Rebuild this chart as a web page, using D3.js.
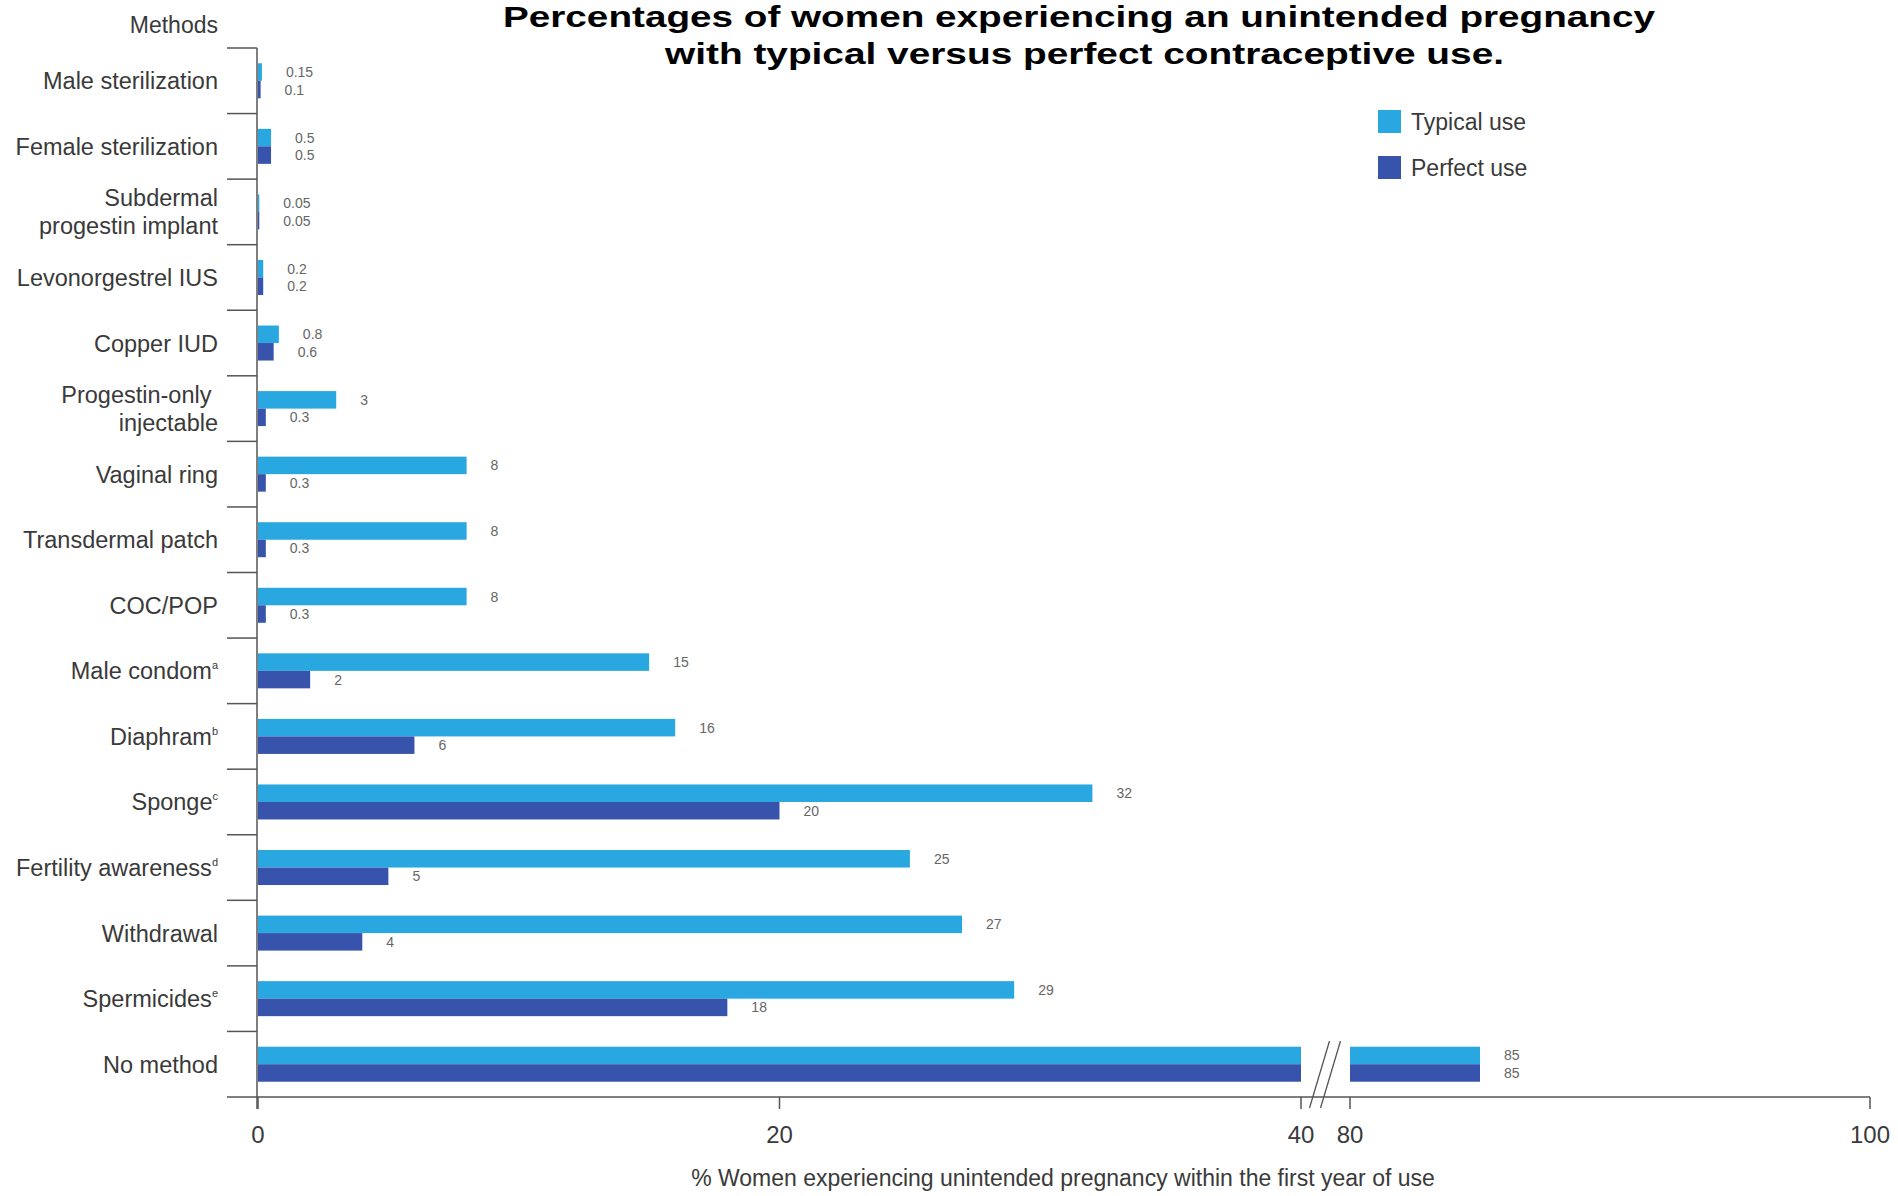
<!DOCTYPE html>
<html>
<head>
<meta charset="utf-8">
<script src="https://cdn.jsdelivr.net/npm/d3@7"></script>
<style>
  html, body { margin: 0; padding: 0; background: #fff; }
  svg { display: block; }
  text { font-family: "Liberation Sans", Arial, sans-serif; }
</style>
</head>
<body>
<div id="chart"></div>
<script>
// ---- data ----
const methods = [
  "Male sterilization", "Female sterilization", "Subdermal\nprogestin implant",
  "Levonorgestrel IUS", "Copper IUD", "Progestin-only\u00a0\ninjectable",
  "Vaginal ring", "Transdermal patch", "COC/POP", "Male condom", "Diaphram",
  "Sponge", "Fertility awareness", "Withdrawal", "Spermicides", "No method"
];
const footnotes = ["", "", "", "", "", "", "", "", "", "a", "b", "c", "d", "", "e", ""];
const typicalUse = [0.15, 0.5, 0.05, 0.2, 0.8, 3, 8, 8, 8, 15, 16, 32, 25, 27, 29, 85];
const perfectUse = [0.1, 0.5, 0.05, 0.2, 0.6, 0.3, 0.3, 0.3, 0.3, 2, 6, 20, 5, 4, 18, 85];
const seriesNames = ["Typical use", "Perfect use"];
const xTicks = [0, 20, 40, 80, 100];
const titleLines = [
  "Percentages of women experiencing an unintended pregnancy",
  "with typical versus perfect contraceptive use."
];
const xAxisTitle = "% Women experiencing unintended pregnancy within the first year of use";
const yAxisTitle = "Methods";

// ---- layout ----
const W = 1898, H = 1196;
const colors = ["#29a7e0", "#3853ab"];
const svg = d3.select("#chart").append("svg").attr("width", W).attr("height", H);

// broken axis: 0-40 then 80-100
const x = d3.scaleLinear().domain([0, 40, 80, 100]).range([258, 1301, 1350, 1870]);
const y = d3.scaleBand().domain(methods).range([48, 1097]).padding(0);
const barH = 17.5;
const axisY = 1097, axisLeft = 227;

// title
svg.append("text").attr("x", 503).attr("y", 27)
  .attr("font-weight", "bold").attr("font-size", 30).attr("fill", "#000")
  .attr("textLength", 1152).attr("lengthAdjust", "spacingAndGlyphs")
  .text(titleLines[0]);
svg.append("text").attr("x", 665).attr("y", 64)
  .attr("font-weight", "bold").attr("font-size", 30).attr("fill", "#000")
  .attr("textLength", 839).attr("lengthAdjust", "spacingAndGlyphs")
  .text(titleLines[1]);

// segments for a bar on the broken scale
function segments(v) {
  const segs = [[0, Math.min(v, 40)]];
  if (v > 80) segs.push([80, v]);
  return segs;
}

const rows = methods.map((m, i) => ({ m, i, vals: [typicalUse[i], perfectUse[i]] }));

// bars
const g = svg.append("g");
rows.forEach(r => {
  r.vals.forEach((v, s) => {
    const y0 = y(r.m) + y.bandwidth() / 2 - barH + s * barH;
    segments(v).forEach(([a, b]) => {
      g.append("rect")
        .attr("x", x(a)).attr("y", y0)
        .attr("width", Math.max(0, x(b) - x(a))).attr("height", barH)
        .attr("fill", colors[s]);
    });
    g.append("text")
      .attr("x", x(v) + 24).attr("y", y0 + barH / 2 + 5)
      .attr("font-size", 14).attr("fill", "#666")
      .text(v);
  });
});

// y axis line and separators
svg.append("line").attr("x1", 257).attr("x2", 257).attr("y1", 48).attr("y2", axisY + 12)
  .attr("stroke", "#555").attr("stroke-width", 1.5);
methods.forEach(m => {
  svg.append("line").attr("x1", axisLeft).attr("x2", 257)
    .attr("y1", y(m)).attr("y2", y(m))
    .attr("stroke", "#555").attr("stroke-width", 1.5);
});

// category labels
rows.forEach(r => {
  const lines = r.m.split("\n");
  const cy = y(r.m) + y.bandwidth() / 2;
  lines.forEach((ln, k) => {
    const t = svg.append("text")
      .attr("x", 218)
      .attr("y", cy + 8.5 + (k - (lines.length - 1) / 2) * 28)
      .attr("text-anchor", "end").attr("font-size", 23.5).attr("fill", "#3a3a3a");
    t.append("tspan").text(ln);
    if (k === lines.length - 1 && footnotes[r.i]) {
      t.append("tspan").attr("font-size", 11).attr("dy", -10).text(footnotes[r.i]);
    }
  });
});

svg.append("text").attr("x", 218).attr("y", 33).attr("text-anchor", "end")
  .attr("font-size", 23).attr("fill", "#3a3a3a").text(yAxisTitle);

// x axis
svg.append("line").attr("x1", axisLeft).attr("x2", x(100)).attr("y1", axisY).attr("y2", axisY)
  .attr("stroke", "#555").attr("stroke-width", 1.5);
xTicks.forEach(t => {
  svg.append("line").attr("x1", x(t)).attr("x2", x(t)).attr("y1", axisY).attr("y2", axisY + 12)
    .attr("stroke", "#555").attr("stroke-width", 1.5);
  svg.append("text").attr("x", x(t)).attr("y", axisY + 46)
    .attr("text-anchor", "middle").attr("font-size", 24).attr("fill", "#3a3a3a").text(t);
});

// break marks
const mid = (x(40) + x(80)) / 2;
[-6, 5].forEach(o => {
  svg.append("line")
    .attr("x1", mid + o + 10).attr("y1", axisY - 56)
    .attr("x2", mid + o - 10).attr("y2", axisY + 11)
    .attr("stroke", "#555").attr("stroke-width", 1.3);
});

svg.append("text").attr("x", 1063).attr("y", 1186).attr("text-anchor", "middle")
  .attr("font-size", 23).attr("fill", "#3a3a3a").text(xAxisTitle);

// legend
seriesNames.forEach((n, i) => {
  svg.append("rect").attr("x", 1378).attr("y", 110 + i * 46).attr("width", 23).attr("height", 23)
    .attr("fill", colors[i]);
  svg.append("text").attr("x", 1411).attr("y", 130 + i * 46)
    .attr("font-size", 23).attr("fill", "#3a3a3a").text(n);
});
</script>
</body>
</html>
